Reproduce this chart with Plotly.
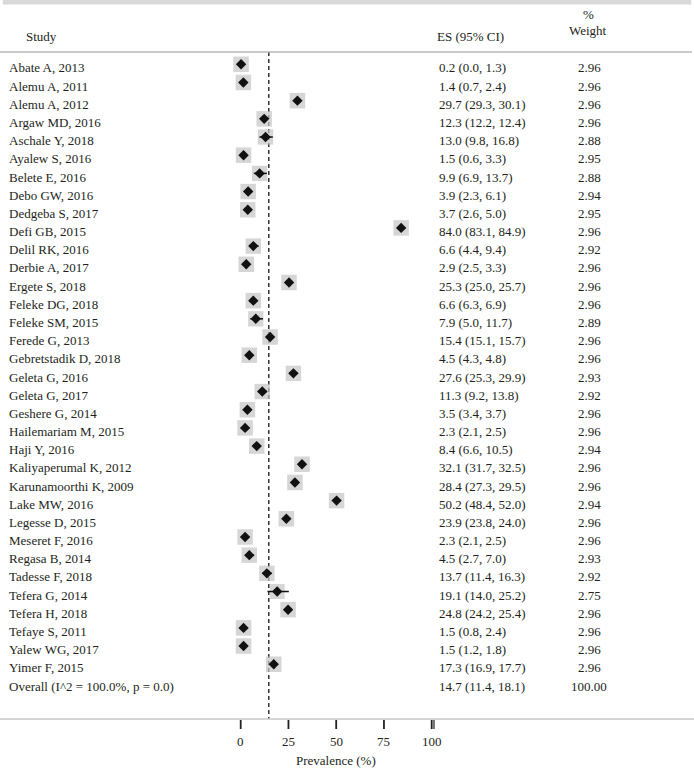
import plotly.graph_objects as go

studies = ["Abate A, 2013", "Alemu A, 2011", "Alemu A, 2012", "Argaw MD, 2016", "Aschale Y, 2018",
           "Ayalew S, 2016", "Belete E, 2016", "Debo GW, 2016", "Dedgeba S, 2017", "Defi GB, 2015",
           "Delil RK, 2016", "Derbie A, 2017", "Ergete S, 2018", "Feleke DG, 2018", "Feleke SM, 2015",
           "Ferede G, 2013", "Gebretstadik D, 2018", "Geleta G, 2016", "Geleta G, 2017", "Geshere G, 2014",
           "Hailemariam M, 2015", "Haji Y, 2016", "Kaliyaperumal K, 2012", "Karunamoorthi K, 2009",
           "Lake MW, 2016", "Legesse D, 2015", "Meseret F, 2016", "Regasa B, 2014", "Tadesse F, 2018",
           "Tefera G, 2014", "Tefera H, 2018", "Tefaye S, 2011", "Yalew WG, 2017", "Yimer F, 2015"]
es = [0.2, 1.4, 29.7, 12.3, 13.0, 1.5, 9.9, 3.9, 3.7, 84.0, 6.6, 2.9, 25.3, 6.6, 7.9, 15.4, 4.5,
      27.6, 11.3, 3.5, 2.3, 8.4, 32.1, 28.4, 50.2, 23.9, 2.3, 4.5, 13.7, 19.1, 24.8, 1.5, 1.5, 17.3]
lo = [0.0, 0.7, 29.3, 12.2, 9.8, 0.6, 6.9, 2.3, 2.6, 83.1, 4.4, 2.5, 25.0, 6.3, 5.0, 15.1, 4.3,
      25.3, 9.2, 3.4, 2.1, 6.6, 31.7, 27.3, 48.4, 23.8, 2.1, 2.7, 11.4, 14.0, 24.2, 0.8, 1.2, 16.9]
hi = [1.3, 2.4, 30.1, 12.4, 16.8, 3.3, 13.7, 6.1, 5.0, 84.9, 9.4, 3.3, 25.7, 6.9, 11.7, 15.7, 4.8,
      29.9, 13.8, 3.7, 2.5, 10.5, 32.5, 29.5, 52.0, 24.0, 2.5, 7.0, 16.3, 25.2, 25.4, 2.4, 1.8, 17.7]
weights = [2.96, 2.96, 2.96, 2.96, 2.88, 2.95, 2.88, 2.94, 2.95, 2.96, 2.92, 2.96, 2.96, 2.96, 2.89,
           2.96, 2.96, 2.93, 2.92, 2.96, 2.96, 2.94, 2.96, 2.96, 2.94, 2.96, 2.96, 2.93, 2.92, 2.75,
           2.96, 2.96, 2.96, 2.96]
overall_label = "Overall (I^2 = 100.0%, p = 0.0)"
overall_es, overall_lo, overall_hi, overall_w = 14.7, 11.4, 18.1, "100.00"
tick_vals = [0, 25, 50, 75, 100]
x_title = "Prevalence (%)"

W, H = 694, 779
FONT = "Liberation Serif"
TXT = "#231f20"
n = len(studies)
rows = list(range(n))
overall_row = n

# pixel geometry
x0_px, px_per_unit = 240.7, 1.91
row0_px, row_px = 64.3, 18.18
axis_px = 719
xr = [-x0_px / px_per_unit, (W - x0_px) / px_per_unit]

def ypix(p):
    return (p - row0_px) / row_px

fig = go.Figure()

# CI lines
cx, cy = [], []
for i in rows:
    cx += [lo[i], hi[i], None]
    cy += [i, i, None]
# weight squares
fig.add_trace(go.Scatter(x=es, y=rows, mode="markers",
                         marker=dict(symbol="square", size=[15.5 * (w / 2.96) ** 0.5 for w in weights],
                                     color="#c4c4c4", line=dict(width=0)),
                         hoverinfo="skip", showlegend=False))
fig.add_trace(go.Scatter(x=cx, y=cy, mode="lines", line=dict(color="#111", width=1.5),
                         hoverinfo="skip", showlegend=False))
# point estimate diamonds
fig.add_trace(go.Scatter(x=es, y=rows, mode="markers",
                         marker=dict(symbol="diamond", size=8, color="#111"),
                         hoverinfo="skip", showlegend=False))

shapes = []
# top grey band
shapes.append(dict(type="rect", xref="paper", yref="y", x0=0.004, x1=0.996, y0=ypix(0), y1=ypix(4.5),
                   fillcolor="#d9d9d9", line=dict(width=0), layer="below"))
# header line
shapes.append(dict(type="line", xref="paper", yref="y", x0=0.0, x1=0.997, y0=ypix(52), y1=ypix(52),
                   line=dict(color="#b8b8b8", width=1.5)))
# overall dashed line
shapes.append(dict(type="line", xref="x", yref="y", x0=overall_es, x1=overall_es, y0=ypix(52), y1=ypix(axis_px),
                   line=dict(color="#333", width=1.5, dash="4px,3px"), layer="below"))
# axis line
shapes.append(dict(type="line", xref="paper", yref="y", x0=0.0, x1=1.0, y0=ypix(axis_px), y1=ypix(axis_px),
                   line=dict(color="#c8c8c8", width=1.5)))
# ticks
for t in tick_vals:
    shapes.append(dict(type="line", xref="x", yref="y", x0=t, x1=t, y0=ypix(axis_px + 1), y1=ypix(axis_px + 10),
                       line=dict(color="#222", width=1.8)))
shapes.append(dict(type="line", xref="x", yref="y", x0=tick_vals[-1] + 1.2, x1=tick_vals[-1] + 1.2,
                   y0=ypix(axis_px + 1), y1=ypix(axis_px + 10), line=dict(color="#222", width=1.2)))

ann = []
def txt(x_px, y, s, anchor="left", size=13):
    ann.append(dict(xref="paper", yref="y", x=x_px / W, y=y, text=s, showarrow=False,
                    xanchor=anchor, yanchor="middle", font=dict(family=FONT, size=size, color=TXT)))

# headers
txt(24, ypix(36), "Study")
txt(435, ypix(36), "ES (95% CI)")
txt(588, ypix(14), "%", "center")
txt(588, ypix(30), "Weight", "center")

dy = 0.2
for i in rows:
    txt(7, i + dy, studies[i])
    txt(437, i + dy, f"{es[i]:.1f} ({lo[i]:.1f}, {hi[i]:.1f})")
    txt(589, i + dy, f"{weights[i]:.2f}", "center")
txt(7, overall_row + dy, overall_label)
txt(437, overall_row + dy, f"{overall_es:.1f} ({overall_lo:.1f}, {overall_hi:.1f})")
txt(589, overall_row + dy, overall_w, "center")

# tick labels and axis title via x data coordinates
for t in tick_vals:
    ann.append(dict(xref="x", yref="y", x=t, y=ypix(741), text=str(t), showarrow=False,
                    xanchor="center", yanchor="middle", font=dict(family=FONT, size=13, color=TXT)))
ann.append(dict(xref="x", yref="y", x=50, y=ypix(760), text=x_title, showarrow=False,
                xanchor="center", yanchor="middle", font=dict(family=FONT, size=13, color=TXT)))

yr_full = [(H - row0_px) / row_px, -row0_px / row_px]

fig.update_layout(
    width=W, height=H, margin=dict(l=0, r=0, t=0, b=0),
    paper_bgcolor="white", plot_bgcolor="white",
    xaxis=dict(range=xr, visible=False, fixedrange=True),
    yaxis=dict(range=yr_full, visible=False, fixedrange=True),
    shapes=shapes, annotations=ann, showlegend=False,
)
fig.write_html("out.html", config={"displayModeBar": False},
               post_script="document.body.style.margin='0px';document.body.style.padding='0px';")
